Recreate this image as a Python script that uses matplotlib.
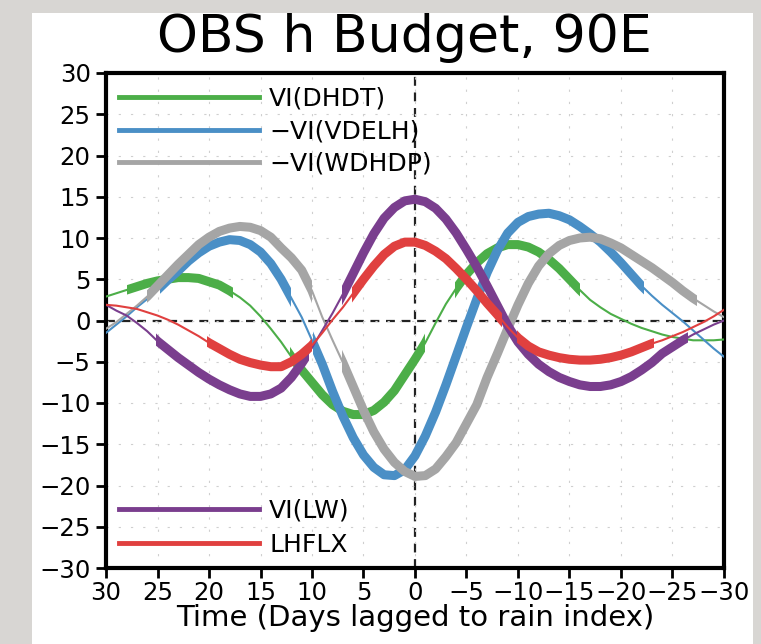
import numpy as np
import matplotlib
matplotlib.use("Agg")
import matplotlib.pyplot as plt
from matplotlib.patches import Rectangle

# lag in days (positive = before the rain peak), read every day from 30 to -30
days = np.arange(30, -31, -1)

dhdt = [2.9, 3.3, 3.7, 4.1, 4.5, 4.8, 5.0, 5.2, 5.2, 5.1, 4.7, 4.3, 3.6, 2.8, 1.8, 0.5,
        -1.0, -2.6, -4.4, -6.0, -7.5, -9.0, -10.2, -11.0, -11.4, -11.4, -10.9, -9.9, -8.5, -6.6,
        -4.7, -2.7, -0.3, 2.0, 3.9, 5.6, 7.0, 8.1, 8.8, 9.2, 9.2, 8.9, 8.3, 7.4, 6.3, 5.0,
        3.7, 2.5, 1.6, 0.8, 0.2, -0.4, -0.9, -1.3, -1.7, -2.0, -2.2, -2.4, -2.4, -2.4, -2.3]
vdelh = [-1.5, -0.5, 0.5, 1.6, 2.6, 3.7, 4.9, 6.0, 7.2, 8.2, 9.0, 9.5, 9.8, 9.7, 9.2, 8.3,
         6.9, 5.0, 2.7, 0.4, -2.4, -5.3, -8.6, -11.6, -14.2, -16.3, -17.8, -18.7, -18.8, -18.1,
         -16.4, -14.0, -11.1, -7.8, -4.3, -0.8, 2.6, 5.8, 8.5, 10.6, 11.9, 12.6, 12.9, 13.0, 12.7,
         12.2, 11.4, 10.5, 9.5, 8.3, 7.0, 5.6, 4.2, 3.0, 1.9, 0.9, -0.1, -1.2, -2.3, -3.4, -4.4]
wdhdp = [-1.0, -0.2, 0.8, 1.8, 2.9, 4.2, 5.5, 6.8, 8.0, 9.2, 10.1, 10.8, 11.2, 11.4, 11.3, 10.9,
         10.1, 8.8, 7.6, 6.1, 3.6, 0.4, -2.4, -5.1, -8.0, -10.9, -13.5, -15.6, -17.2, -18.3,
         -18.9, -18.8, -18.0, -16.5, -14.8, -12.5, -10.2, -6.9, -4.0, -1.0, 1.9, 4.5, 6.6, 8.1,
         9.1, 9.7, 10.0, 10.1, 9.9, 9.4, 8.8, 8.0, 7.2, 6.4, 5.5, 4.6, 3.6, 2.7, 1.9, 1.1, 0.4]
lw = [1.9, 1.2, 0.6, -0.3, -1.3, -2.5, -3.5, -4.5, -5.4, -6.3, -7.1, -7.8, -8.4, -8.9, -9.2, -9.2,
      -8.9, -8.2, -6.9, -5.2, -3.3, -1.2, 0.9, 3.2, 5.7, 8.2, 10.5, 12.4, 13.7, 14.5,
      14.7, 14.4, 13.6, 12.3, 10.6, 8.6, 6.5, 4.2, 1.8, -0.6, -2.6, -4.1, -5.3, -6.2, -6.9,
      -7.4, -7.8, -8.0, -8.0, -7.8, -7.4, -6.8, -6.0, -5.1, -4.0, -3.2, -2.4, -1.7, -1.1, -0.5, 0.0]
lhflx = [1.9, 1.8, 1.6, 1.4, 1.0, 0.6, 0.1, -0.5, -1.2, -1.9, -2.7, -3.4, -4.1, -4.7, -5.1, -5.4,
         -5.6, -5.6, -5.0, -4.1, -3.0, -1.5, 0.1, 1.6, 3.3, 5.0, 6.6, 8.0, 9.0, 9.5,
         9.5, 9.1, 8.4, 7.5, 6.3, 5.0, 3.6, 2.1, 0.7, -0.8, -2.1, -3.1, -3.8, -4.2, -4.5,
         -4.7, -4.8, -4.8, -4.7, -4.5, -4.2, -3.8, -3.3, -2.8, -2.4, -1.9, -1.4, -0.8, -0.2, 0.5, 1.3]

# day ranges drawn thick (significant)
dhdt_sig = [(28.0, 17.7), (12.1, -1.0), (-3.9, -16.0)]
vdelh_sig = [(24.8, 12.0), (9.9, -22.2)]
wdhdp_sig = [(26.0, 10.0), (7.1, -27.4)]
lw_sig = [(25.1, 10.3), (7.1, -26.5)]
lhflx_sig = [(20.2, 10.0), (6.1, -8.4), (-9.9, -23.2)]

labels = ["VI(DHDT)", "\u2212VI(VDELH)", "\u2212VI(WDHDP)", "VI(LW)", "LHFLX"]
colors = ["#4cae48", "#4a8fc6", "#a5a5a5", "#7a3e8e", "#e0403f"]
series = [dhdt, vdelh, wdhdp, lw, lhflx]
sigs = [dhdt_sig, vdelh_sig, wdhdp_sig, lw_sig, lhflx_sig]

plt.rcParams["font.family"] = "DejaVu Sans"

fig = plt.figure(figsize=(7.61, 6.44), dpi=100, facecolor="#d8d6d3")
fig.patches.append(Rectangle((32 / 761, 0), 721 / 761, 631 / 644, transform=fig.transFigure,
                             facecolor="white", edgecolor="none", zorder=-10))
ax = fig.add_axes([106 / 761, 1 - 568 / 644, 618 / 761, 495 / 644])
ax.set_facecolor("white")

ax.axhline(0, color="#222222", lw=1.6, ls=(0, (4, 3)), zorder=1)
ax.axvline(0, color="#222222", lw=1.6, ls=(0, (4, 3)), zorder=1)

handles = []
for vals, sig, c, lab in zip(series, sigs, colors, labels):
    ax.plot(days, vals, color=c, lw=1.5, zorder=3)
    for a, b in sig:
        thick, = ax.plot(days, vals, color=c, lw=6.5, solid_joinstyle="round",
                         solid_capstyle="butt", zorder=3)
        clip = Rectangle((min(a, b), -30), abs(a - b), 60, transform=ax.transData)
        thick.set_clip_path(clip)
    h, = ax.plot([], [], color=c, lw=3.5, label=lab)
    handles.append(h)

ax.set_xlim(30, -30)
ax.set_ylim(-30, 30)
ax.set_xticks(np.arange(30, -31, -5))
ax.set_yticks(np.arange(-30, 31, 5))
ax.grid(color="#cfcfcf", lw=0.8, ls=(0, (2, 9)))
ax.tick_params(direction="out", length=7, width=2, labelsize=17.6)
ax.tick_params(axis="x", pad=2)
ax.tick_params(axis="y", pad=4)
for s in ax.spines.values():
    s.set_linewidth(3)

ax.set_xlabel("Time (Days lagged to rain index)", fontsize=21, labelpad=0)
fig.text(404 / 761, 1 - 38 / 644, "OBS h Budget, 90E", fontsize=37.5, ha="center", va="center")

leg1 = ax.legend(handles=handles[:3], loc="upper left", bbox_to_anchor=(0.013, 0.982),
                 frameon=False, fontsize=18, handlelength=5.6, handletextpad=0.4,
                 labelspacing=0.34, borderpad=0.2, borderaxespad=0)
ax.add_artist(leg1)
ax.legend(handles=handles[3:], loc="lower left", bbox_to_anchor=(0.013, 0.012),
          frameon=False, fontsize=18, handlelength=5.6, handletextpad=0.4,
          labelspacing=0.42, borderpad=0.2, borderaxespad=0)

fig.savefig("out.png", dpi=100, facecolor=fig.get_facecolor())
